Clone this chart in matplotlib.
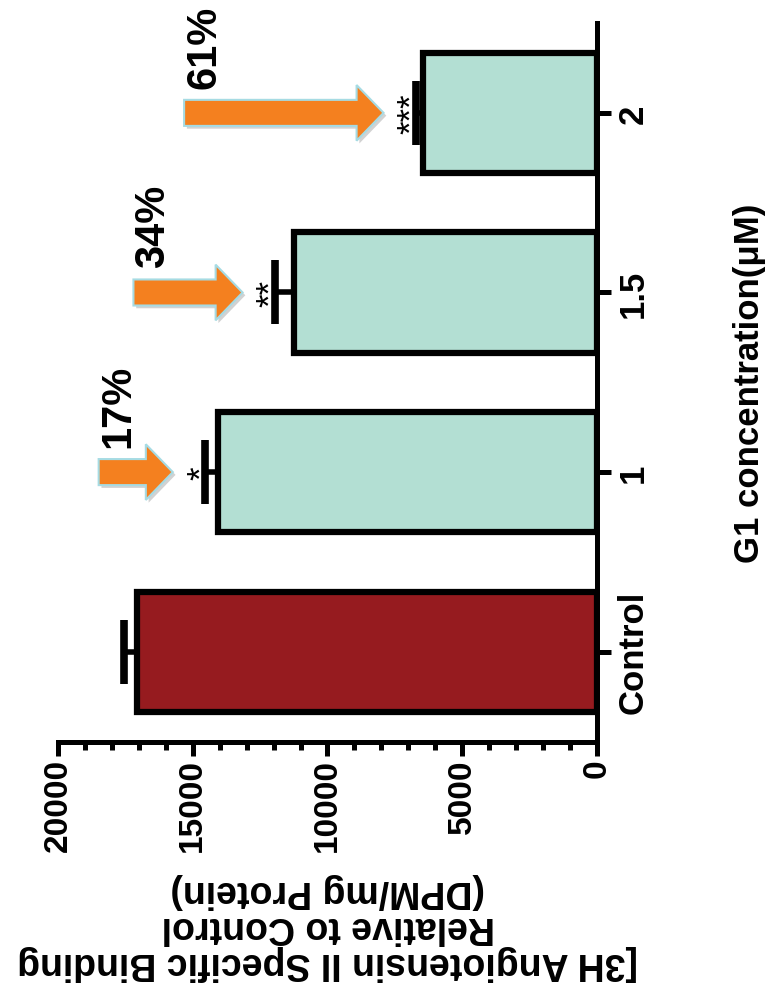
import numpy as np
import matplotlib
matplotlib.use("Agg")
import matplotlib.pyplot as plt
from matplotlib.patches import FancyArrow
from matplotlib.ticker import MultipleLocator
import matplotlib.patheffects as pe

plt.rcParams['font.family'] = ['Liberation Sans', 'DejaVu Sans']

groups = ['Control', '1', '1.5', '2']
binding = [17050, 14080, 11230, 6460]
sem = [500, 460, 720, 260]
stars = ['', '*', '**', '***']
drops = ['', '17%', '34%', '61%']
arrow_len = [0, 2750, 4050, 7400]

bar_colors = ['#961b1f', '#b3dfd3', '#b3dfd3', '#b3dfd3']
orange = '#f4801f'

fig = plt.figure(figsize=(7.74, 10.03), dpi=100)
ax = fig.add_axes([0.0749, 0.2597, 0.6964, 0.7163])

pos = np.arange(len(groups))
ax.barh(pos, binding, height=0.67, color=bar_colors, edgecolor='black',
        linewidth=4.5, zorder=2)
# one sided error bars, cap only at the outer end
ax.errorbar(binding, pos, xerr=[np.zeros(len(sem)), sem], fmt='none',
            ecolor='black', elinewidth=4, capsize=0, zorder=3)
ax.plot(np.array(binding) + np.array(sem), pos, linestyle='none', marker='|',
        markersize=46, markeredgewidth=5.5, color='black', zorder=3)

ax.set_xlim(20000, 0)
ax.set_ylim(-0.5, 3.5)

# significance stars, arrows and percent reduction
for i in range(1, len(groups)):
    top = binding[i] + sem[i]
    ax.text(top + 150, pos[i], stars[i], rotation=90, ha='center',
            va='center', fontsize=25, zorder=4)
    tip = top + 1200
    tail = tip + arrow_len[i]
    arr = FancyArrow(tail, pos[i], tip - tail, 0, width=0.145,
                     head_width=0.31, head_length=1000,
                     length_includes_head=True, facecolor=orange,
                     edgecolor='#a6dbe3', linewidth=1.5, zorder=4)
    arr.set_path_effects([pe.withSimplePatchShadow(offset=(2, -2),
                                                   shadow_rgbFace='gray',
                                                   alpha=0.35)])
    ax.add_patch(arr)
    ax.text(tail, pos[i] + 0.14, drops[i], rotation=90, ha='left',
            va='bottom', fontsize=30, fontweight='bold', zorder=4)

for s in ['top', 'left']:
    ax.spines[s].set_visible(False)
for s in ['bottom', 'right']:
    ax.spines[s].set_linewidth(3.6)

ax.xaxis.set_major_locator(MultipleLocator(5000))
ax.xaxis.set_minor_locator(MultipleLocator(1000))
ax.tick_params(axis='x', which='major', direction='out', length=10, width=3.6,
               pad=2, labelsize=24, labelrotation=90)
ax.tick_params(axis='x', which='minor', direction='out', length=6, width=3.6)
for lab in ax.get_xticklabels():
    lab.set_fontweight('bold')

ax.yaxis.tick_right()
ax.set_yticks(pos)
ax.set_yticklabels(groups, rotation=90, va='center', fontsize=25,
                   fontweight='bold')
ax.tick_params(axis='y', direction='out', length=10, width=3.6, pad=4)
ax.yaxis.set_label_position('right')
ax.set_ylabel('G1 concentration(\u03bcM)', rotation=90, fontsize=25,
              fontweight='bold', labelpad=60)

fig.text(328 / 774, 1 - 927 / 1003,
         '[3H Angiotensin II Specific Binding\nRelative to Control\n(DPM/mg Protein)',
         rotation=180, ha='center', va='center', multialignment='center',
         fontsize=27, fontweight='bold', linespacing=1.0)

fig.savefig('out.png', dpi=100)
